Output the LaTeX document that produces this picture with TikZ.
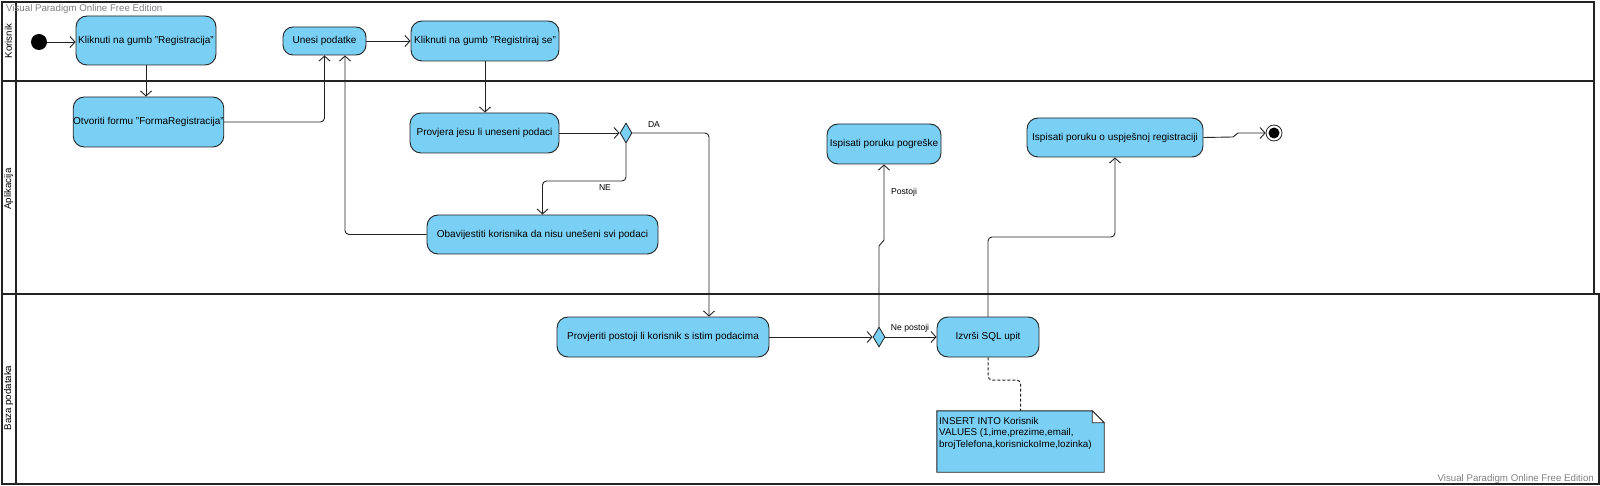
\documentclass[tikz,border=0pt]{standalone}
\usepackage{fontspec}
\setmainfont{Liberation Sans}
\usetikzlibrary{arrows.meta,shapes.geometric,calc}
\definecolor{vpblue}{RGB}{122,207,245}
\definecolor{vpline}{RGB}{35,35,35}
\definecolor{vpgray}{RGB}{128,128,128}
\begin{document}
\begin{tikzpicture}[x=1pt,y=-1pt,
  lane/.style={draw=vpline,line width=2pt},
  lanelabel/.style={rotate=90,inner sep=0pt,font=\fontsize{9.7}{11}\selectfont},
  act/.style={draw=vpline,fill=vpblue,line width=0.9pt,rounded corners=11pt,inner sep=0pt,
    font=\fontsize{10}{11}\selectfont,text=black},
  dec/.style={diamond,draw=vpline,fill=vpblue,line width=0.8pt,inner sep=0pt,aspect=0.6,
    minimum width=12pt,minimum height=20pt},
  conn/.style={draw=vpline,line width=0.9pt,rounded corners=4pt,
    -{Straight Barb[length=5pt,width=11pt]}},
  plain/.style={draw=vpline,line width=0.9pt,rounded corners=4pt},
  glabel/.style={inner sep=0pt,font=\fontsize{8.6}{10}\selectfont},
  water/.style={inner sep=0pt,text=vpgray,font=\fontsize{9.7}{11}\selectfont}
]
\useasboundingbox (0,0) rectangle (1600,486);
\fill[white] (0,0) rectangle (1600,486);

% swimlanes
\draw[lane] (2,2) rectangle (1594,81);
\draw[lane] (2,81) rectangle (1594,294);
\draw[lane] (2,294) rectangle (1599,484);
\draw[lane] (16,2) -- (16,484);
\node[lanelabel] (lk) at (8.5,41) {Korisnik};
\node[lanelabel] (la) at (8.5,189) {Aplikacija};
\node[lanelabel] (lb) at (8.5,398) {Baza podataka};

% watermarks
\node[water,anchor=west] (w1) at (6,9) {Visual Paradigm Online Free Edition};
\node[water,anchor=east] (w2) at (1594,479) {Visual Paradigm Online Free Edition};

% nodes
\node[circle,fill=black,minimum size=16pt,inner sep=0pt] (init) at (39,42) {};
\node[act,minimum width=140pt,minimum height=49pt] (reg) at (146,40.5) {Kliknuti na gumb "Registracija"};
\node[act,minimum width=83pt,minimum height=28pt,rounded corners=10pt] (unesi) at (324.5,41) {Unesi podatke};
\node[act,minimum width=148pt,minimum height=40pt] (regse) at (485,41) {Kliknuti na gumb "Registriraj se"};
\node[act,minimum width=145pt,minimum height=50pt] (forma) at (148.5,122) {Otvoriti formu "FormaRegistracija"};
\node[act,minimum width=149pt,minimum height=40pt] (prov) at (484.5,133) {Provjera jesu li uneseni podaci};
\node[dec] (d1) at (626,133) {};
\node[act,minimum width=231pt,minimum height=39pt] (obav) at (542.5,234.5) {Obavijestiti korisnika da nisu unešeni svi podaci};
\node[act,minimum width=212pt,minimum height=40pt] (postoji) at (663,337) {Provjeriti postoji li korisnik s istim podacima};
\node[dec] (d2) at (879,337) {};
\node[act,minimum width=102pt,minimum height=40pt] (sql) at (988,337) {Izvrši SQL upit};
\node[act,minimum width=114pt,minimum height=40pt] (greska) at (884,144) {Ispisati poruku pogreške};
\node[act,minimum width=176pt,minimum height=39pt] (uspjeh) at (1115,137.5) {Ispisati poruku o uspješnoj registraciji};
\node[circle,draw=vpline,fill=white,line width=0.8pt,minimum size=16pt,inner sep=0pt] (fin) at (1274,133) {};
\node[circle,fill=black,minimum size=11pt,inner sep=0pt] (finin) at (fin.center) {};

% note
\node[minimum width=167pt,minimum height=61pt,inner sep=0pt] (note) at (1020.5,441.5) {};
\draw[draw=vpline,fill=vpblue,line width=0.9pt]
  (note.north west) -- ([xshift=-12pt]note.north east) -- ([yshift=-12pt]note.north east)
  -- (note.south east) -- (note.south west) -- cycle;
\draw[draw=vpline,fill=white,line width=0.7pt]
  ([xshift=-12pt]note.north east) -- ([xshift=-12pt,yshift=-12pt]note.north east)
  -- ([yshift=-12pt]note.north east) -- cycle;
\node[anchor=north west,align=left,inner sep=0pt,font=\fontsize{9.8}{11.5}\selectfont] (notetext) at (939,417)
  {INSERT INTO Korisnik\\VALUES (1,ime,prezime,email,\\brojTelefona,korisnickoIme,lozinka)};

% waypoints
\coordinate (ne) at (600,181);
\coordinate (j1) at (879,246);
\coordinate (j2) at (884,240);
\coordinate (up) at (1050,237);
\coordinate (f1) at (1233,137);
\coordinate (f2) at (1238,133);
\coordinate (dn) at (1000,380);

% connectors
\draw[conn] (init.east) -- (init.east -| reg.west);
\draw[conn] (reg.south) -- (reg.south |- forma.north);
\draw[conn] (forma.east) -| (unesi.south);
\draw[conn] (obav.west) -| ([xshift=20.5pt]unesi.south);
\draw[conn] (unesi.east) -- (regse.west);
\draw[conn] (regse.south) -- (regse.south |- prov.north);
\draw[conn] (prov.east) -- (d1.west);
\draw[conn] (d1.east) -| ([xshift=46pt]postoji.north);
\draw[conn] (d1.south) |- (ne) -| (obav.north);
\draw[conn] (postoji.east) -- (d2.west);
\draw[conn] (d2.east) -- (sql.west);
\draw[conn,rounded corners=0pt] (d2.north) -- (j1) -- (j2) -- (greska.south);
\draw[conn] (sql.north) |- (up) -| (uspjeh.south);
\draw[conn,rounded corners=0pt] (uspjeh.east) -- (f1) -- (f2) -- (fin.west);
\draw[plain,dashed,dash pattern=on 3pt off 2pt,line width=1pt] (sql.south) |- (dn) -| (note.north);

% guard labels
\node[glabel] (lda) at (654,125) {DA};
\node[glabel] (lne) at (605,188) {NE};
\node[glabel] (lpo) at (904,192) {Postoji};
\node[glabel] (lnp) at (910,328) {Ne postoji};
\end{tikzpicture}
\end{document}
